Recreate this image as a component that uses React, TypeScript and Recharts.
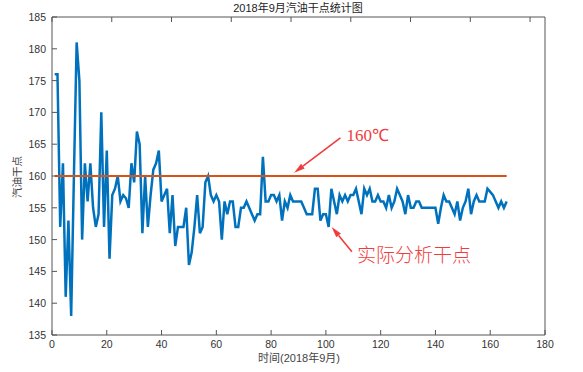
import React from "react";
import { LineChart, Line, XAxis, YAxis, ReferenceLine } from "recharts";

// 2018年9月 汽油干点 (one sample per analysis)
const DRY_POINT = [
  176, 176, 152, 162, 141, 153, 138, 160, 181, 175,
  150, 162, 156, 162, 155, 152, 154, 170, 152, 164,
  147, 157, 158, 160, 156, 157, 156.5, 155, 162, 159,
  167, 165, 151, 160, 152, 157, 161, 162, 164, 156,
  157, 158, 151, 157, 149, 152, 152, 152, 155, 146,
  148, 152, 157, 151, 152, 159, 160, 157, 156, 157,
  156, 150, 156, 154, 156, 156, 152, 152, 155, 155,
  156, 155, 154, 153, 154, 154, 163, 156, 156, 157,
  157, 156, 157, 153, 156, 155, 157, 156, 156, 156,
  156, 155, 154, 154, 154, 158, 158, 153, 154, 154,
  152, 158, 156, 154, 157, 156, 157, 156, 157, 157,
  158, 156, 154, 158, 157, 158, 156, 156, 157, 156,
  156, 155, 157, 155, 156, 158, 157, 156, 154, 157,
  155, 155, 156, 156, 155, 155, 155, 155, 155, 155,
  152.5, 155, 157, 156, 156, 155, 154, 156, 153, 155,
  156, 158, 154, 156, 157, 156, 156, 156, 158, 157.5,
  157, 156, 155, 156, 155, 156,
];
const LIMIT = 160;
const X_TICKS = [0, 20, 40, 60, 80, 100, 120, 140, 160, 180];
const Y_TICKS = [135, 140, 145, 150, 155, 160, 165, 170, 175, 180, 185];

const data = DRY_POINT.map((v, i) => ({ day: i + 1, value: v, limit: LIMIT }));

const AXIS = "#555";
const LABEL = "#333";
const RED = "#f03c3c";
const TICK_FONT = { fontFamily: "Liberation Sans, Arial, sans-serif", fontSize: 10.5, fill: LABEL };

const BottomTick = ({ x, y, payload }: any) => (
  <g>
    <line x1={x} y1={y} x2={x} y2={y - 5} stroke={AXIS} />
    <text x={x} y={y + 13} textAnchor="middle" {...TICK_FONT}>
      {payload.value}
    </text>
  </g>
);
const LeftTick = ({ x, y, payload }: any) => (
  <g>
    <line x1={x} y1={y} x2={x + 5} y2={y} stroke={AXIS} />
    <text x={x - 6} y={y + 4} textAnchor="end" {...TICK_FONT}>
      {payload.value}
    </text>
  </g>
);
const TopTick = ({ x, y }: any) => <line x1={x} y1={y} x2={x} y2={y + 5} stroke={AXIS} />;
const RightTick = ({ x, y }: any) => <line x1={x} y1={y} x2={x - 5} y2={y} stroke={AXIS} />;

// arrow from (x1,y1) tail to (x2,y2) head, with a note next to the tail
const arrow = (note: string, dx: number, dy: number, font: any) => (p: any) => {
  const { x1, y1, x2, y2 } = p;
  const ang = Math.atan2(y2 - y1, x2 - x1);
  const len = 11;
  const half = 3;
  const bx = x2 - len * Math.cos(ang);
  const by = y2 - len * Math.sin(ang);
  const px = -Math.sin(ang) * half;
  const py = Math.cos(ang) * half;
  return (
    <g>
      <line x1={x1} y1={y1} x2={bx} y2={by} stroke={RED} strokeWidth={1.6} />
      <polygon points={`${x2},${y2} ${bx + px},${by + py} ${bx - px},${by - py}`} fill={RED} />
      <text x={x1 + dx} y={y1 + dy} fill={RED} dominantBaseline="middle" {...font}>
        {note}
      </text>
    </g>
  );
};

export default function App() {
  return (
    <div style={{ position: "absolute", left: 0, top: 0, width: 583, height: 372, background: "#fff" }}>
      <LineChart width={583} height={372} data={data} margin={{ top: 16, right: 37, bottom: 0, left: 0 }}>
        <XAxis
          dataKey="day"
          type="number"
          domain={[0, 180]}
          ticks={X_TICKS}
          interval={0}
          height={37}
          tickSize={0}
          tickMargin={0}
          stroke={AXIS}
          tick={<BottomTick />}
        />
        <XAxis
          xAxisId="top"
          orientation="top"
          type="number"
          domain={[0, 180]}
          ticks={X_TICKS}
          interval={0}
          height={1}
          tickSize={0}
          tickMargin={0}
          stroke={AXIS}
          tick={<TopTick />}
        />
        <YAxis
          type="number"
          domain={[135, 185]}
          ticks={Y_TICKS}
          interval={0}
          width={52}
          tickSize={0}
          tickMargin={0}
          stroke={AXIS}
          tick={<LeftTick />}
        />
        <YAxis
          yAxisId="right"
          orientation="right"
          type="number"
          domain={[135, 185]}
          ticks={Y_TICKS}
          interval={0}
          width={1}
          tickSize={0}
          tickMargin={0}
          stroke={AXIS}
          tick={<RightTick />}
        />
        <Line
          type="linear"
          dataKey="value"
          stroke="#0072BD"
          strokeWidth={2.5}
          dot={false}
          isAnimationActive={false}
        />
        <Line
          type="linear"
          dataKey="limit"
          stroke="#D95319"
          strokeWidth={2.2}
          dot={false}
          isAnimationActive={false}
        />
        <ReferenceLine
          segment={[{ x: 105.3, y: 166 }, { x: 88.4, y: 160.5 }]}
          shape={arrow("160℃", 6, -1, { fontFamily: "Liberation Serif, serif", fontSize: 17 })}
        />
        <ReferenceLine
          segment={[{ x: 109.5, y: 148.1 }, { x: 102.1, y: 152 }]}
          shape={arrow("实际分析干点", 5, 5, { fontFamily: "Noto Sans CJK SC, sans-serif", fontSize: 19, fontWeight: 300 })}
        />
      </LineChart>
      <div
        style={{
          position: "absolute",
          left: 0,
          width: 596,
          top: 1,
          textAlign: "center",
          fontFamily: "Liberation Sans, Noto Sans CJK SC, sans-serif",
          fontSize: 11,
          color: "#222",
          lineHeight: "14px",
        }}
      >
        2018年9月汽油干点统计图
      </div>
      <div
        style={{
          position: "absolute",
          left: 0,
          width: 598,
          top: 352,
          textAlign: "center",
          fontFamily: "Liberation Sans, Noto Sans CJK SC, sans-serif",
          fontSize: 11,
          color: "#444",
          lineHeight: "13px",
        }}
      >
        时间(2018年9月)
      </div>
      <div
        style={{
          position: "absolute",
          left: 17,
          top: 177,
          transform: "translate(-50%, -50%) rotate(-90deg)",
          fontFamily: "Noto Sans CJK SC, sans-serif",
          fontSize: 10.5,
          color: "#444",
          whiteSpace: "nowrap",
          lineHeight: "12px",
        }}
      >
        汽油干点
      </div>
    </div>
  );
}
